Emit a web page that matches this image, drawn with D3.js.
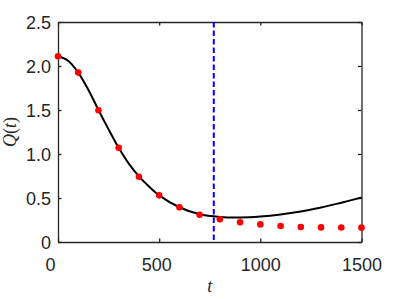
<!DOCTYPE html>
<html>
<head>
<meta charset="utf-8">
<script src="https://cdn.jsdelivr.net/npm/d3@7"></script>
<style>
  body { margin: 0; background: #fff; }
  .tick text { font-family: "Liberation Sans", Arial, sans-serif; font-size: 18px; fill: #262626; }
  .label { font-family: "Liberation Serif", "Times New Roman", serif; font-size: 18px; fill: #262626; }
</style>
</head>
<body>
<div id="chart"></div>
<script>
// model curve Q(t)
let curveT = [0, 50, 100, 150, 200, 250, 300, 350, 400, 450, 500, 600, 700, 800, 900, 1000, 1100, 1200, 1300, 1400, 1500]
let curveQ = [2.11, 2.06, 1.925, 1.73, 1.50, 1.28, 1.07, 0.89, 0.745, 0.63, 0.53, 0.395, 0.315, 0.285, 0.279, 0.29, 0.313, 0.347, 0.392, 0.447, 0.505]

// sampled points (red)
let dotT = [0, 100, 200, 300, 400, 500, 600, 700, 800, 900, 1000, 1100, 1200, 1300, 1400, 1500]
let dotQ = [2.11, 1.925, 1.497, 1.07, 0.742, 0.53, 0.394, 0.31, 0.258, 0.224, 0.20, 0.182, 0.170, 0.166, 0.165, 0.163]

// dashed marker
let markerT = 770

let xTicks = [0, 500, 1000, 1500]
let xTickLabels = ['0', '500', '1000', '1500']
let yTicks = [0, 0.5, 1, 1.5, 2, 2.5]
let yTickLabels = ['0', '0.5', '1.0', '1.5', '2.0', '2.5']

let width = 399, height = 299
let mLeft = 58, mTop = 22, mRight = 361.5, mBottom = 242
let axisColor = '#262626'

let svg = d3.select('#chart').append('svg')
    .attr('width', width)
    .attr('height', height)

let x = d3.scaleLinear().domain([0, 1500]).range([mLeft, mRight])
let y = d3.scaleLinear().domain([0, 2.5]).range([mBottom, mTop])

// box + axes
let xAxis = svg.append('g')
    .attr('transform', `translate(0,${mBottom})`)
    .call(d3.axisBottom(x).tickValues(xTicks).tickFormat((d, i) => xTickLabels[i])
        .tickSizeInner(-3.5).tickSizeOuter(0).tickPadding(16))
xAxis.selectAll('.tick text').attr('dx', (d, i) => i == 0 ? -8 : (i == 1 ? -3 : 0))

svg.append('g')
    .attr('transform', `translate(0,${mTop})`)
    .call(d3.axisTop(x).tickValues(xTicks).tickFormat('')
        .tickSizeInner(-3.5).tickSizeOuter(0))

let yAxis = svg.append('g')
    .attr('transform', `translate(${mLeft},0)`)
    .call(d3.axisLeft(y).tickValues(yTicks).tickFormat((d, i) => yTickLabels[i])
        .tickSizeInner(-3.5).tickSizeOuter(0).tickPadding(7))
yAxis.selectAll('.tick text').attr('dy', '0.38em')

svg.append('g')
    .attr('transform', `translate(${mRight},0)`)
    .call(d3.axisRight(y).tickValues(yTicks).tickFormat('')
        .tickSizeInner(-3.5).tickSizeOuter(0))

svg.selectAll('.domain, .tick line')
    .attr('stroke', axisColor)
    .attr('stroke-width', 1.3)

// black curve
let line = d3.line()
    .x(d => x(d[0]))
    .y(d => y(d[1]))
    .curve(d3.curveCatmullRom)
svg.append('path')
    .datum(curveT.map((t, i) => [t, curveQ[i]]))
    .attr('d', line)
    .attr('fill', 'none')
    .attr('stroke', '#000')
    .attr('stroke-width', 2)

// vertical dashed line
svg.append('line')
    .attr('x1', x(markerT)).attr('x2', x(markerT))
    .attr('y1', y(2.5)).attr('y2', y(0))
    .attr('stroke', '#0000ff')
    .attr('stroke-width', 2)
    .attr('stroke-dasharray', '5.5,3')

// red dots
svg.append('g').selectAll('circle')
    .data(dotT.map((t, i) => [t, dotQ[i]]))
    .enter().append('circle')
    .attr('cx', d => x(d[0]))
    .attr('cy', d => y(d[1]))
    .attr('r', 3.3)
    .attr('fill', '#ff0000')

// labels
svg.append('text')
    .attr('class', 'label')
    .attr('x', (mLeft + mRight) / 2)
    .attr('y', 292)
    .attr('text-anchor', 'middle')
    .style('font-style', 'italic')
    .text('t')

let ql = svg.append('text')
    .attr('class', 'label')
    .attr('transform', `translate(16,${(mTop + mBottom) / 2}) rotate(-90)`)
    .attr('text-anchor', 'middle')
ql.append('tspan').style('font-style', 'italic').text('Q')
ql.append('tspan').text('(')
ql.append('tspan').style('font-style', 'italic').text('t')
ql.append('tspan').text(')')
</script>
</body>
</html>
